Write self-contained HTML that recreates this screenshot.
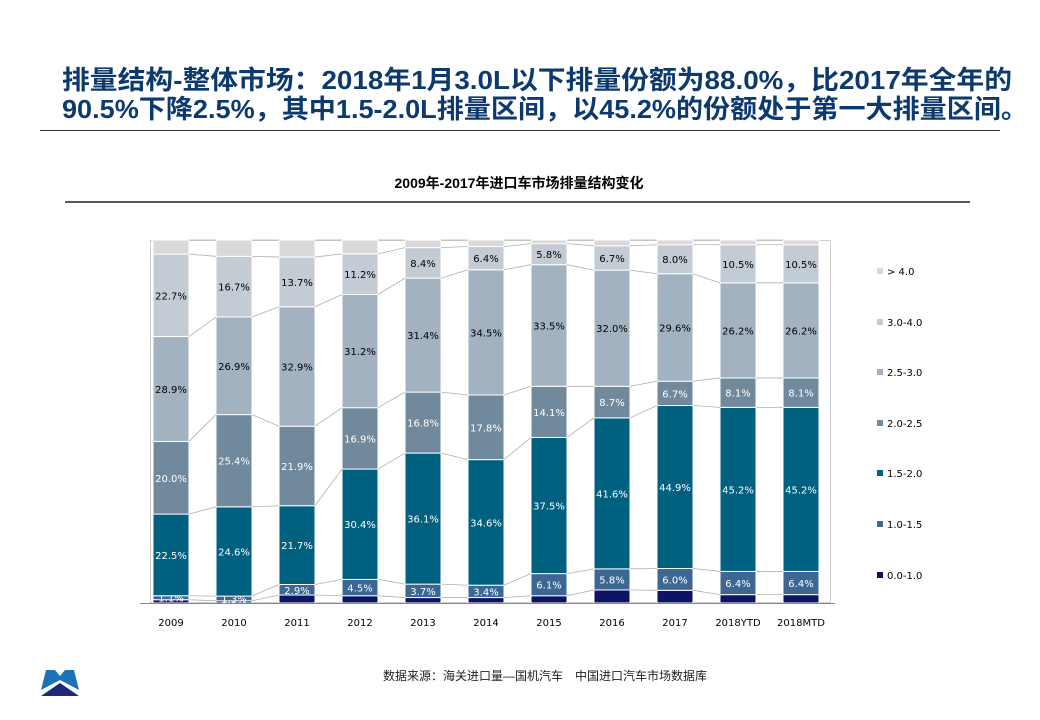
<!DOCTYPE html>
<html><head><meta charset="utf-8"><style>
html,body{margin:0;padding:0;background:#fff;}
svg{display:block;}
</style></head><body>
<svg id="s" width="1040" height="720" xmlns="http://www.w3.org/2000/svg" font-family="'Liberation Sans','Noto Sans CJK SC',sans-serif">
<text x="62" y="89" font-size="26" font-weight="bold" fill="#0d3a6e" textLength="950" lengthAdjust="spacingAndGlyphs">排量结构-整体市场：2018年1月3.0L以下排量份额为88.0%，比2017年全年的</text>
<text x="62" y="118" font-size="26" font-weight="bold" fill="#0d3a6e" textLength="966" lengthAdjust="spacingAndGlyphs">90.5%下降2.5%，其中1.5-2.0L排量区间，以45.2%的份额处于第一大排量区间。</text>
<line x1="40" y1="130.5" x2="1000" y2="130.5" stroke="#333" stroke-width="1"/>
<text x="519" y="188" font-size="14" font-weight="bold" text-anchor="middle" fill="#000">2009年-2017年进口车市场排量结构变化</text>
<line x1="65" y1="202" x2="970" y2="202" stroke="#222" stroke-width="1.5"/>
<rect x="150.5" y="240.5" width="680" height="362" fill="none" stroke="#d0d0d0"/>
<g id="bars"></g>
<line x1="140" y1="603.5" x2="835" y2="603.5" stroke="#888"/>
<g font-family="'DejaVu Sans',sans-serif" font-size="10" fill="#000" text-anchor="middle" id="xl"></g>
<g font-family="'DejaVu Sans',sans-serif" font-size="10" fill="#000">
<rect x="877" y="268" width="6" height="6" fill="#d9d9d9"/><text x="887" y="275">&gt; 4.0</text>
<rect x="877" y="319" width="6" height="6" fill="#c3cbd4"/><text x="887" y="326">3.0-4.0</text>
<rect x="877" y="369" width="6" height="6" fill="#a3b2c1"/><text x="887" y="376">2.5-3.0</text>
<rect x="877" y="420" width="6" height="6" fill="#70899d"/><text x="887" y="427">2.0-2.5</text>
<rect x="877" y="470" width="6" height="6" fill="#00607f"/><text x="887" y="477">1.5-2.0</text>
<rect x="877" y="521" width="6" height="6" fill="#3b6792"/><text x="887" y="528">1.0-1.5</text>
<rect x="877" y="572" width="6" height="6" fill="#0d1463"/><text x="887" y="579">0.0-1.0</text>
</g>
<text x="545" y="680" font-size="12" text-anchor="middle" fill="#222">数据来源：海关进口量—国机汽车　中国进口汽车市场数据库</text>
<polygon points="41,690 46,670 55,670 60,676 65,670 74,670 79,690 60,680" fill="#1a72b8"/>
<polygon points="41,696 60,683 79,696" fill="#1d2a7a"/>
</svg>
<script>
(function(){
var cols=["#0d1463","#3b6792","#00607f","#70899d","#a3b2c1","#c3cbd4","#d9d9d9"];
var tc=["#fff","#fff","#fff","#fff","#000","#000","#000"];
var d=[
[0.9,1.1,22.5,20.0,28.9,22.7],[0.6,1.3,24.6,25.4,26.9,16.7],[2.2,2.9,21.7,21.9,32.9,13.7],
[2.0,4.5,30.4,16.9,31.2,11.2],[1.5,3.7,36.1,16.8,31.4,8.4],[1.5,3.4,34.6,17.8,34.5,6.4],
[2.0,6.1,37.5,14.1,33.5,5.8],[3.6,5.8,41.6,8.7,32.0,6.7],[3.5,6.0,44.9,6.7,29.6,8.0],
[2.3,6.4,45.2,8.1,26.2,10.5],[2.3,6.4,45.2,8.1,26.2,10.5]];
var lab=["2009","2010","2011","2012","2013","2014","2015","2016","2017","2018YTD","2018MTD"];
var g=document.getElementById("bars"),xl=document.getElementById("xl");
var T=240,B=603,H=B-T,W=36,prev=null,h="",xh="";
d.forEach(function(r,i){
 var x=153+i*63,s=r.reduce(function(a,b){return a+b},0);r=r.concat([100-s]);
 var y=B,bnds=[];
 r.forEach(function(v,j){var hh=v/100*H;y-=hh;
  h+='<rect x="'+x+'" y="'+y+'" width="'+W+'" height="'+hh+'" fill="'+cols[j]+'" stroke="#fff" stroke-width="1"/>';
  bnds.push(y);
  if(j>=1&&j<=5){h+='<text x="'+(x+W/2)+'" y="'+(y+hh/2+4)+'" font-family="DejaVu Sans,sans-serif" font-size="10" text-anchor="middle" fill="'+tc[j]+'">'+v.toFixed(1)+'%</text>';}
 });
 if(prev){bnds.forEach(function(b,j){h+='<line x1="'+(prev.x+W)+'" y1="'+prev.b[j]+'" x2="'+x+'" y2="'+b+'" stroke="#b0b0b0" stroke-width="0.8"/>';});}
 prev={x:x,b:bnds};
 xh+='<text x="'+(x+W/2)+'" y="626">'+lab[i]+'</text>';
});
g.innerHTML=h;xl.innerHTML=xh;
})();
</script>
</body></html>
